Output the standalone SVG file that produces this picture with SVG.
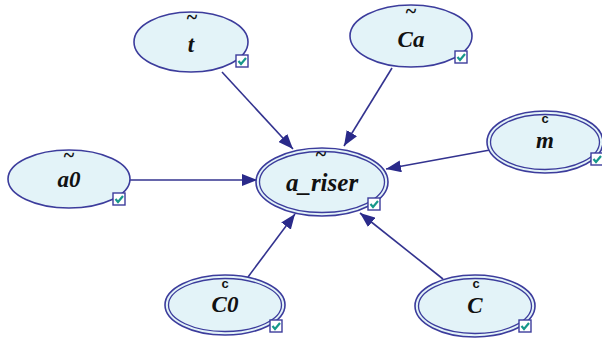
<svg xmlns="http://www.w3.org/2000/svg" width="602" height="339" viewBox="0 0 602 339">
<defs>
<style>
.n{fill:#e3f3f8;stroke:#3c3c9c;stroke-width:1.6}
.d{fill:none;stroke:#3c3c9c;stroke-width:1.3}
.lbl{font-family:'Liberation Serif','Times New Roman',serif;font-weight:700;font-style:italic;font-size:23px;fill:#111;text-anchor:middle}
.til{font-family:'Liberation Serif','Times New Roman',serif;font-weight:700;font-size:20px;fill:#111;text-anchor:middle}
.cst{font-family:'Liberation Sans',Arial,sans-serif;font-weight:700;font-size:13px;fill:#111;text-anchor:middle}
.e{stroke:#33338f;stroke-width:1.6;fill:none;marker-end:url(#ah)}
.cb{fill:#fff;stroke:#3c3c9c;stroke-width:1.4}
.ck{fill:none;stroke:#17988a;stroke-width:2.2}
</style>
<marker id="ah" markerUnits="userSpaceOnUse" markerWidth="16" markerHeight="12" refX="15" refY="6" orient="auto">
<path d="M0,0 L15,6 L0,12 Z" fill="#2a2a8a"/>
</marker>
<g id="check"><rect class="cb" x="0" y="0" width="12" height="12"/><path class="ck" d="M2.5,6 L5,9 L10,3"/></g>
</defs>
<g id="edges">
<line class="e" x1="222" y1="72" x2="293" y2="149"/>
<line class="e" x1="392" y1="68" x2="344" y2="146"/>
<line class="e" x1="490" y1="150" x2="386" y2="169"/>
<line class="e" x1="130" y1="180" x2="257" y2="180"/>
<line class="e" x1="248" y1="277" x2="295" y2="214"/>
<line class="e" x1="443" y1="279" x2="360" y2="213"/>
</g>
<g id="t">
<ellipse class="n" cx="191" cy="42" rx="57" ry="30"/>
<text class="til" x="192" y="24">~</text>
<text class="lbl" x="191" y="52">t</text>
<use href="#check" x="236" y="55"/>
</g>
<g id="Ca">
<ellipse class="n" cx="411" cy="36" rx="61" ry="31"/>
<text class="til" x="411" y="18">~</text>
<text class="lbl" x="411" y="47">Ca</text>
<use href="#check" x="455" y="51"/>
</g>
<g id="m">
<ellipse class="n" cx="545" cy="142" rx="58" ry="31"/>
<ellipse class="d" cx="545" cy="142" rx="54.5" ry="27.5"/>
<text class="cst" x="545" y="123">c</text>
<text class="lbl" x="545" y="148">m</text>
<use href="#check" x="591" y="153"/>
</g>
<g id="a0">
<ellipse class="n" cx="69" cy="179" rx="61" ry="29"/>
<text class="til" x="69" y="162">~</text>
<text class="lbl" x="69" y="187">a0</text>
<use href="#check" x="113" y="193"/>
</g>
<g id="a_riser">
<ellipse class="n" cx="322" cy="182" rx="66" ry="34"/>
<ellipse class="d" cx="322" cy="182" rx="62.5" ry="30.5"/>
<text class="til" x="321" y="161">~</text>
<text class="lbl" x="322" y="191" style="font-size:25px">a_riser</text>
<use href="#check" x="368" y="198"/>
</g>
<g id="C0">
<ellipse class="n" cx="225" cy="305" rx="60" ry="30"/>
<ellipse class="d" cx="225" cy="305" rx="56.5" ry="26.5"/>
<text class="cst" x="225" y="288">c</text>
<text class="lbl" x="225" y="312">C0</text>
<use href="#check" x="270" y="320"/>
</g>
<g id="C">
<ellipse class="n" cx="475" cy="306" rx="60" ry="31"/>
<ellipse class="d" cx="475" cy="306" rx="56.5" ry="27.5"/>
<text class="cst" x="476" y="288">c</text>
<text class="lbl" x="475" y="313">C</text>
<use href="#check" x="519" y="320"/>
</g>
</svg>
